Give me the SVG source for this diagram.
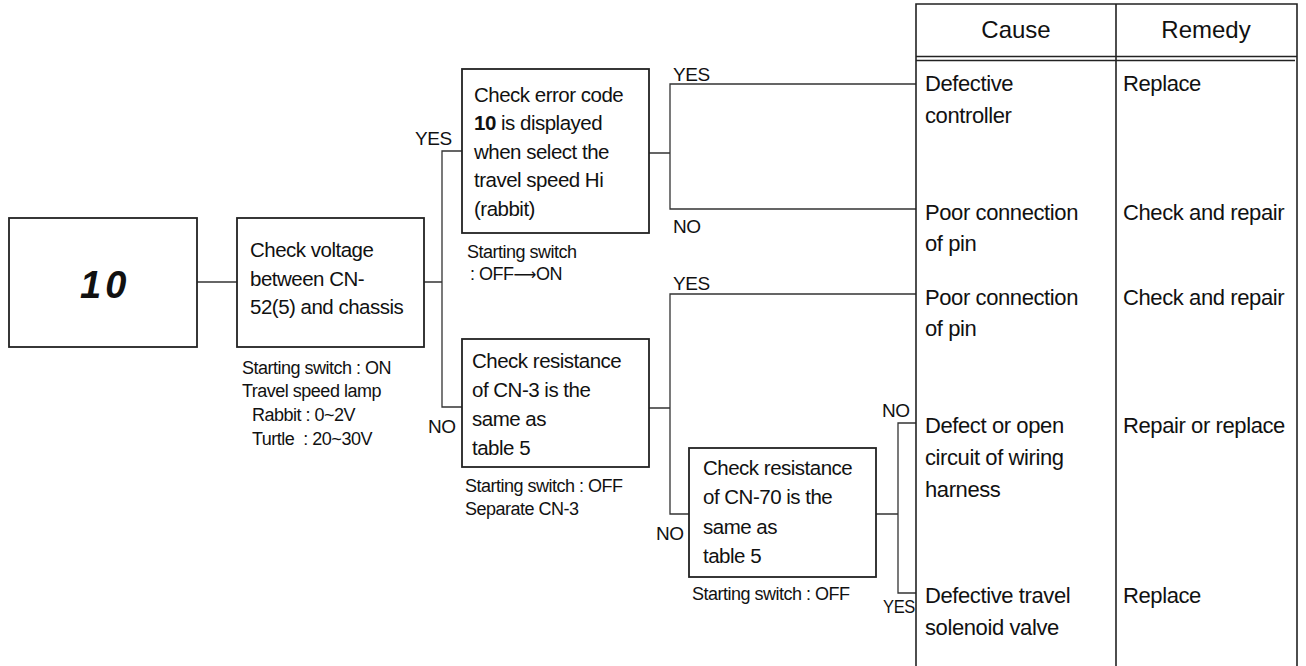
<svg xmlns="http://www.w3.org/2000/svg" width="1306" height="666" viewBox="0 0 1306 666">
<style>
text{font-family:"Liberation Sans",Arial,sans-serif;fill:#111}
.box{fill:#fff;stroke:#222;stroke-width:1.8}
.t{font-size:20.5px;letter-spacing:-0.5px}
.n{font-size:18px;letter-spacing:-0.5px}
.lb{font-size:19px;letter-spacing:-0.4px}
.tb{font-size:22px;letter-spacing:-0.4px}
.hd{font-size:24px;text-anchor:middle}
.c{fill:none;stroke:#333;stroke-width:1.3}
.tl{fill:none;stroke:#222;stroke-width:1.6}
</style>
<rect width="1306" height="666" fill="#fff"/>
<g id="connectors">
<path class="c" d="M197 282H237"/>
<path class="c" d="M424 282H442M462 151H442V407H462"/>
<path class="c" d="M649 153H670M916 84H670V209H916"/>
<path class="c" d="M649 408H670M916 294H670V514H689"/>
<path class="c" d="M876 514H898M916 423H898V593H916"/>
</g>
<g id="labels">
<text class="lb" x="415" y="145">YES</text>
<text class="lb" x="428" y="433">NO</text>
<text class="lb" x="673" y="81">YES</text>
<text class="lb" x="673" y="233">NO</text>
<text class="lb" x="673" y="290">YES</text>
<text class="lb" x="656" y="540">NO</text>
<text class="lb" x="882" y="417">NO</text>
<text class="lb" x="883" y="613" textLength="32" lengthAdjust="spacingAndGlyphs">YES</text>
</g>
<g id="display">
<rect class="box" x="9" y="218" width="188" height="129"/>
<text x="80" y="298" style="font-size:38px;font-style:italic;font-weight:bold;letter-spacing:4px">10</text>
</g>
<g id="check-voltage">
<rect class="box" x="237" y="218" width="187" height="129"/>
<text class="t" x="250" y="257">Check voltage</text>
<text class="t" x="250" y="286">between CN-</text>
<text class="t" x="250" y="314">52(5) and chassis</text>
<text class="n" x="242" y="374">Starting switch : ON</text>
<text class="n" x="242" y="397">Travel speed lamp</text>
<text class="n" x="252" y="421">Rabbit : 0~2V</text>
<text class="n" x="252" y="445" xml:space="preserve">Turtle  : 20~30V</text>
</g>
<g id="check-error-code">
<rect class="box" x="462" y="69" width="187" height="164"/>
<text class="t" x="474" y="102">Check error code</text>
<text class="t" x="474" y="130"><tspan font-weight="bold">10</tspan> is displayed</text>
<text class="t" x="474" y="159">when select the</text>
<text class="t" x="474" y="187">travel speed Hi</text>
<text class="t" x="474" y="216">(rabbit)</text>
<text class="n" x="467" y="258">Starting switch</text>
<text class="n" x="470" y="280">: OFF<tspan style="font-family:'DejaVu Sans',sans-serif;font-size:16px">⟶</tspan>ON</text>
</g>
<g id="check-cn3">
<rect class="box" x="462" y="339" width="187" height="128"/>
<text class="t" x="472" y="368">Check resistance</text>
<text class="t" x="472" y="397">of CN-3 is the</text>
<text class="t" x="472" y="426">same as</text>
<text class="t" x="472" y="455">table 5</text>
<text class="n" x="465" y="492">Starting switch : OFF</text>
<text class="n" x="465" y="515">Separate CN-3</text>
</g>
<g id="check-cn70">
<rect class="box" x="689" y="448" width="187" height="129"/>
<text class="t" x="703" y="475">Check resistance</text>
<text class="t" x="703" y="504">of CN-70 is the</text>
<text class="t" x="703" y="534">same as</text>
<text class="t" x="703" y="563">table 5</text>
<text class="n" x="692" y="600">Starting switch : OFF</text>
</g>
<g id="table">
<path class="tl" d="M916 666V4H1297V666M1116 4V666M916 56.5H1297M916 60.5H1295"/>
<text class="hd" x="1016" y="38">Cause</text>
<text class="hd" x="1206" y="38">Remedy</text>
<text class="tb" x="925" y="91">Defective</text>
<text class="tb" x="925" y="123">controller</text>
<text class="tb" x="1123" y="91">Replace</text>
<text class="tb" x="925" y="220">Poor connection</text>
<text class="tb" x="925" y="251">of pin</text>
<text class="tb" x="1123" y="220">Check and repair</text>
<text class="tb" x="925" y="305">Poor connection</text>
<text class="tb" x="925" y="336">of pin</text>
<text class="tb" x="1123" y="305">Check and repair</text>
<text class="tb" x="925" y="433">Defect or open</text>
<text class="tb" x="925" y="465">circuit of wiring</text>
<text class="tb" x="925" y="497">harness</text>
<text class="tb" x="1123" y="433">Repair or replace</text>
<text class="tb" x="925" y="603">Defective travel</text>
<text class="tb" x="925" y="635">solenoid valve</text>
<text class="tb" x="1123" y="603">Replace</text>
</g>
</svg>
